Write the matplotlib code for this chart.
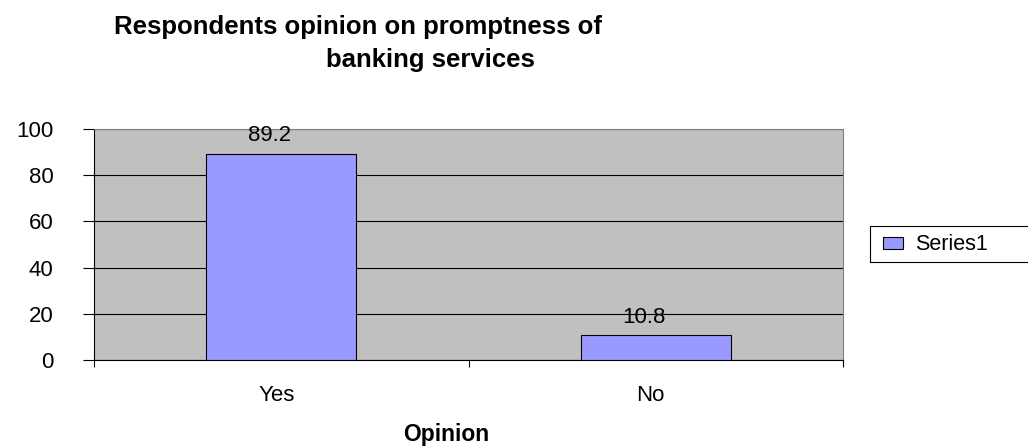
import matplotlib.pyplot as plt
from matplotlib.patches import Rectangle
from matplotlib.transforms import ScaledTranslation

plt.rcParams['font.family'] = ['Liberation Sans', 'DejaVu Sans']

categories = ["Yes", "No"]
values = [89.2, 10.8]
series_name = "Series1"

W, H = 1028, 447
fig = plt.figure(figsize=(W / 100, H / 100), dpi=100)
ax = fig.add_axes([94 / W, 1 - 360 / H, 749 / W, 231 / H])
ax.set_facecolor("#C0C0C0")

x = range(len(categories))
bars = ax.bar(x, values, width=0.4, color="#9999FF", edgecolor="#000000",
              linewidth=0.8, label=series_name, zorder=3)

# value labels above bars
for xi, v in zip(x, values):
    ax.annotate(f"{v}", (xi, v), xytext=(-8.5, 9), textcoords="offset points",
                ha="center", va="baseline", fontsize=16, zorder=4)

ax.set_xlim(-0.5, len(categories) - 0.5)
ax.set_ylim(0, 100)
ax.set_yticks(range(0, 101, 20))
ax.yaxis.grid(True, color="black", linewidth=0.8, zorder=1)
ax.set_axisbelow(True)

# category labels in the middle, tick marks on the boundaries
ax.set_xticks([i - 0.5 for i in range(len(categories) + 1)])
ax.set_xticklabels([])
ax.set_xticks(list(x), minor=True)
ax.set_xticklabels(categories, minor=True, fontsize=16)
ax.tick_params(axis="x", which="minor", length=0, pad=18)
ax.tick_params(axis="x", which="major", length=5, direction="out", width=0.8)
ax.tick_params(axis="y", length=8, direction="out", width=0.8, labelsize=16, pad=21)
shift = ScaledTranslation(-5 / 100, 0, fig.dpi_scale_trans)
for lab in ax.get_xticklabels(minor=True):
    lab.set_transform(lab.get_transform() + shift)

for s in ax.spines.values():
    s.set_color("black")
    s.set_linewidth(0.8)
ax.spines["right"].set_color("#808080")
ax.spines["top"].set_color("#808080")

ax.set_xlabel("Opinion", fontsize=16.5, fontweight="bold", va="top")
ax.xaxis.set_label_coords((446 - 94) / 749, -63 / 231)

# title, two lines as in the original
fig.text(358 / W, 1 - 34 / H, "Respondents opinion on promptness of",
         ha="center", va="baseline", fontsize=18.5, fontweight="bold")
fig.text(430 / W, 1 - 67 / H, "banking services",
         ha="center", va="baseline", fontsize=18.5, fontweight="bold")

# legend (box runs off the right edge)
fig.patches.append(Rectangle((870 / W, 1 - 262 / H), 200 / W, 36 / H,
                             transform=fig.transFigure, fill=False,
                             edgecolor="black", linewidth=0.8))
leg = ax.legend(loc="center left", bbox_to_anchor=(883 / W, 1 - 245 / H),
                bbox_transform=fig.transFigure, fontsize=15.5, frameon=False,
                handlelength=0.93, handleheight=0.5, handletextpad=0.56,
                borderpad=0, borderaxespad=0)

fig.savefig("out.png", dpi=100)
